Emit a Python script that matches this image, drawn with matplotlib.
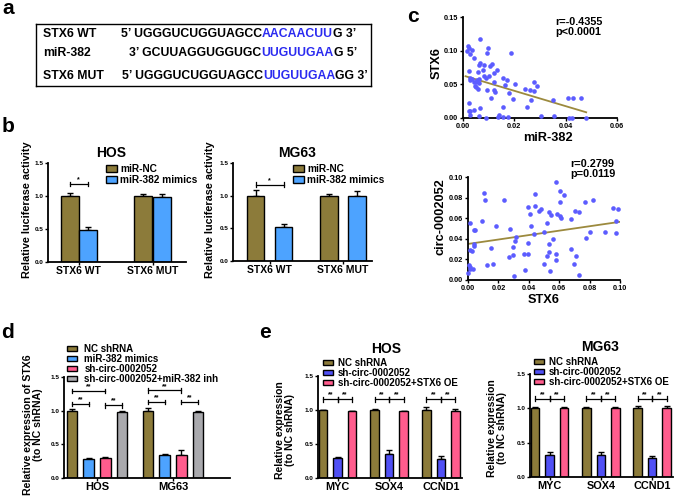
import numpy as np
import matplotlib
matplotlib.use("Agg")
import matplotlib.pyplot as plt
from matplotlib.patches import Patch
from matplotlib.ticker import FormatStrFormatter

W, H = 685, 499

plt.rcParams['font.family'] = ['Liberation Sans', 'DejaVu Sans']
plt.rcParams['font.weight'] = 'bold'
plt.rcParams['axes.labelweight'] = 'bold'

OLIVE = '#8c7b3a'
LBLUE = '#4da3ff'
PINK = '#ff5c8d'
GRAY = '#a9a9ad'
DBLUE = '#5050f5'
DOT = '#5c5cff'
LINE = '#9c8a3e'
SEQBLUE = '#2b2bf0'

# ---- panel a: sequences
seq_names = ['STX6 WT', 'miR-382', 'STX6 MUT']
seq_parts = [
    ["5\u2019 UGGGUCUGGUAGCC", "AACAACUU", "G 3\u2019"],
    ["3\u2019 GCUUAGGUGGUGC", "UUGUUGAA", "G 5\u2019"],
    ["5\u2019 UGGGUCUGGUAGCC", "UUGUUGAA", "GG 3\u2019"],
]

# ---- panel b: luciferase
luc_groups = ['STX6 WT', 'STX6 MUT']
luc_series = ['miR-NC', 'miR-382 mimics']
luc_hos = [[1.00, 1.00], [0.49, 0.98]]
luc_hos_err = [[0.04, 0.03], [0.04, 0.05]]
luc_mg63 = [[1.00, 1.00], [0.52, 1.00]]
luc_mg63_err = [[0.08, 0.03], [0.05, 0.07]]

# ---- panel c: correlations
mir382 = [0.0019, 0.0022, 0.0015, 0.0035, 0.0026, 0.0044, 0.0067, 0.0099, 0.0093, 0.0186,
          0.0022, 0.0067, 0.0063, 0.0076, 0.0057, 0.0080, 0.0106, 0.0114, 0.0119, 0.0134,
          0.0026, 0.0035, 0.0028, 0.0041, 0.0049, 0.0054, 0.0061, 0.0064, 0.0050, 0.0058,
          0.0045, 0.0080, 0.0090, 0.0103, 0.0119, 0.0154, 0.0170, 0.0164, 0.0201, 0.0093,
          0.0121, 0.0123, 0.0110, 0.0179, 0.0194, 0.0243, 0.0261, 0.0277, 0.0276, 0.0289,
          0.0263, 0.0248, 0.0351, 0.0410, 0.0430, 0.0458, 0.0022, 0.0022, 0.0028, 0.0044,
          0.0067, 0.0028, 0.0064, 0.0090, 0.0137, 0.0140, 0.0155, 0.0174, 0.0155, 0.0302,
          0.0355, 0.0413, 0.0425, 0.0480]
stx6_vs_mir = [0.107, 0.104, 0.0995, 0.101, 0.0955, 0.0896, 0.117, 0.104, 0.0965, 0.0965,
               0.070, 0.082, 0.078, 0.072, 0.069, 0.079, 0.077, 0.080, 0.067, 0.072,
               0.059, 0.058, 0.056, 0.054, 0.053, 0.056, 0.052, 0.058, 0.046, 0.0436,
               0.047, 0.062, 0.059, 0.062, 0.0535, 0.059, 0.056, 0.0485, 0.050, 0.041,
               0.042, 0.038, 0.030, 0.037, 0.028, 0.0436, 0.042, 0.0535, 0.040, 0.047,
               0.027, 0.016, 0.026, 0.030, 0.0297, 0.029, 0.023, 0.010, 0.011, 0.012,
               0.015, 0.004, 0.0035, 0.0, 0.0015, 0.004, 0.0015, 0.002, 0.017, 0.0025,
               0.0025, 0.0005, 0.0005, 0.0]
fit1_x = [0.001, 0.048]
fit1_y = [0.062, 0.0085]

stx6 = [0.000, 0.0004, 0.0011, 0.0015, 0.0033, 0.0011, 0.0037, 0.0044, 0.0015, 0.0026,
        0.0037, 0.0037, 0.0092, 0.0107, 0.0114, 0.0125, 0.0153, 0.0164, 0.0186, 0.0239,
        0.0267, 0.0278, 0.0293, 0.0295, 0.0304, 0.0309, 0.0315, 0.0370, 0.0376, 0.0392,
        0.0398, 0.0394, 0.0409, 0.0416, 0.0431, 0.0442, 0.0442, 0.0464, 0.0479, 0.0497,
        0.0501, 0.0519, 0.0523, 0.0530, 0.0534, 0.0536, 0.0540, 0.0547, 0.0562, 0.0578,
        0.0578, 0.0584, 0.0580, 0.0602, 0.0602, 0.0606, 0.0611, 0.0632, 0.0676, 0.0676,
        0.0698, 0.0705, 0.0709, 0.0731, 0.0733, 0.0772, 0.0777, 0.0801, 0.0821, 0.0902,
        0.0956, 0.0974, 0.0972, 0.0989]
circ = [0.0065, 0.0146, 0.013, 0.011, 0.0104, 0.0558, 0.049, 0.049, 0.029, 0.028,
        0.033, 0.035, 0.057, 0.0844, 0.078, 0.015, 0.0315, 0.016, 0.0526, 0.078,
        0.022, 0.0497, 0.024, 0.032, 0.004, 0.038, 0.042, 0.025, 0.0097, 0.071,
        0.036, 0.025, 0.064, 0.0526, 0.0448, 0.0838, 0.072, 0.0666, 0.069, 0.047,
        0.016, 0.055, 0.0234, 0.0276, 0.0656, 0.035, 0.009, 0.063, 0.0396, 0.0948,
        0.025, 0.064, 0.0195, 0.086, 0.0756, 0.0617, 0.060, 0.0828, 0.0594, 0.0299,
        0.0156, 0.0666, 0.023, 0.0049, 0.066, 0.0753, 0.041, 0.047, 0.0773, 0.047,
        0.0698, 0.0568, 0.046, 0.0692]
fit2_x = [0.0, 0.10]
fit2_y = [0.035, 0.0565]

# ---- panel d: STX6 expression
d_groups = ['HOS', 'MG63']
d_series = ['NC shRNA', 'miR-382 mimics', 'sh-circ-0002052', 'sh-circ-0002052+miR-382 inh']
d_vals = [[1.00, 1.00], [0.28, 0.34], [0.30, 0.34], [0.98, 0.98]]
d_err = [[0.02, 0.04], [0.02, 0.02], [0.01, 0.07], [0.01, 0.01]]

# ---- panel e: target genes
e_groups = ['MYC', 'SOX4', 'CCND1']
e_series = ['NC shRNA', 'sh-circ-0002052', 'sh-circ-0002052+STX6 OE']
e_hos = [[1.00, 1.00, 1.00], [0.30, 0.35, 0.28], [0.98, 0.98, 0.98]]
e_hos_err = [[0.0, 0.02, 0.04], [0.01, 0.06, 0.04], [0.01, 0.01, 0.04]]
e_mg63 = [[1.00, 1.00, 1.00], [0.32, 0.32, 0.28], [1.00, 1.00, 1.00]]
e_mg63_err = [[0.02, 0.02, 0.03], [0.04, 0.05, 0.03], [0.02, 0.02, 0.03]]


fig = plt.figure(figsize=(W / 100, H / 100), dpi=100)


def px_axes(l, t, r, b):
    return fig.add_axes([l / W, 1 - b / H, (r - l) / W, (b - t) / H])


def ftext(x, y, s, **kw):
    kw.setdefault('ha', 'center')
    kw.setdefault('va', 'center')
    return fig.text(x / W, 1 - y / H, s, **kw)


def style(ax, tick_fs=4.6):
    for s in ['top', 'right']:
        ax.spines[s].set_visible(False)
    for s in ['left', 'bottom']:
        ax.spines[s].set_linewidth(1.3)
    ax.tick_params(axis='y', length=2.5, width=1, labelsize=tick_fs, pad=1)
    ax.tick_params(axis='x', length=2, width=1, pad=1)


def bar_panel(ax, groups, vals, errs, colors, first, gstep, bstep, width, width_px, xfs):
    n = len(vals)
    gx = first + np.arange(len(groups)) * gstep
    xs = []
    for i in range(n):
        x = gx + (i - (n - 1) / 2) * bstep
        xs.append(x)
        ax.errorbar(x, vals[i], yerr=[np.zeros(len(groups)), errs[i]], fmt='none',
                    ecolor='k', elinewidth=1, capsize=2.2, capthick=1, zorder=1)
        ax.bar(x, vals[i], width, color=colors[i], edgecolor='k', linewidth=1, zorder=2)
    ax.set_xlim(0, width_px)
    ax.set_ylim(0, 1.5)
    ax.set_yticks([0, 0.5, 1.0, 1.5])
    ax.yaxis.set_major_formatter(FormatStrFormatter('%.1f'))
    ax.set_xticks(gx)
    ax.set_xticklabels(groups, fontsize=xfs)
    style(ax)
    return xs


def bracket(ax, x0, x1, y, label, fs=5, dy=0.035):
    ax.plot([x0, x1], [y, y], color='k', lw=0.9, clip_on=False)
    ax.plot([x0, x0], [y - dy, y + dy], color='k', lw=0.9, clip_on=False)
    ax.plot([x1, x1], [y - dy, y + dy], color='k', lw=0.9, clip_on=False)
    ax.text((x0 + x1) / 2, y + 0.01, label, ha='center', va='bottom', fontsize=fs)


def legend(ax, labels, colors, x, y, fs, hl, hh, tp, ls):
    handles = [Patch(facecolor=c, edgecolor='k', linewidth=1) for c in colors]
    ax.legend(handles, labels, loc='upper left', bbox_to_anchor=(x / W, 1 - y / H),
              bbox_transform=fig.transFigure, frameon=False, borderpad=0, borderaxespad=0,
              fontsize=fs, handlelength=hl, handleheight=hh, handletextpad=tp,
              labelspacing=ls)


# panel letters
for s, x, y in [('a', 8, 9), ('b', 8, 127), ('c', 413, 17), ('d', 8, 333), ('e', 265, 333)]:
    ftext(x, y, s, fontsize=15)

# ---------------- a
ax_a = px_axes(36, 24, 371, 86)
ax_a.set_xlim(0, 335)
ax_a.set_ylim(62, 0)
ax_a.set_xticks([])
ax_a.set_yticks([])
for s in ax_a.spines.values():
    s.set_linewidth(1)
row_y = [10, 29, 52]
seq_x = [85, 93, 86]
for name, parts, y, x in zip(seq_names, seq_parts, row_y, seq_x):
    ax_a.text(7, y, name, fontsize=8.8, va='center', ha='left')
    t = ax_a.text(x, y, parts[0], fontsize=8.8, va='center', ha='left')
    t = ax_a.annotate(parts[1], xy=(1, 0.5), xycoords=t, fontsize=8.8, va='center',
                      ha='left', color=SEQBLUE)
    ax_a.annotate(parts[2], xy=(1, 0.5), xycoords=t, fontsize=8.8, va='center', ha='left')

# ---------------- b
ax_b1 = px_axes(48, 163, 186, 262)
xs = bar_panel(ax_b1, luc_groups, luc_hos, luc_hos_err, [OLIVE, LBLUE],
               30.75, 73.75, 18.5, 18, 138, 7.5)
bracket(ax_b1, xs[0][0], xs[1][0], 1.18, '*')
legend(ax_b1, luc_series, [OLIVE, LBLUE], 106, 164, 7.3, 1.05, 0.6, 0.35, 0.1)
ftext(111, 153, 'HOS', fontsize=10)
ftext(27, 210, 'Relative luciferase activity', fontsize=7.8, rotation=90)

ax_b2 = px_axes(233, 163, 372, 261)
xs = bar_panel(ax_b2, luc_groups, luc_mg63, luc_mg63_err, [OLIVE, LBLUE],
               36.5, 73.25, 28, 17.5, 139, 7.5)
bracket(ax_b2, xs[0][0], xs[1][0], 1.17, '*')
legend(ax_b2, luc_series, [OLIVE, LBLUE], 293, 164, 7.3, 1.05, 0.6, 0.35, 0.1)
ftext(297, 153, 'MG63', fontsize=10)
ftext(210, 210, 'Relative luciferase activity', fontsize=7.8, rotation=90)

# ---------------- c
ax_c1 = px_axes(463, 17, 617, 118)
ax_c1.scatter(mir382, stx6_vs_mir, s=11, color=DOT, linewidths=0, clip_on=False, zorder=3)
ax_c1.plot(fit1_x, fit1_y, color=LINE, lw=1.3, zorder=2)
ax_c1.set_xlim(0, 0.06)
ax_c1.set_ylim(0, 0.15)
ax_c1.set_xticks([0, 0.02, 0.04, 0.06])
ax_c1.set_yticks([0, 0.05, 0.10, 0.15])
ax_c1.xaxis.set_major_formatter(FormatStrFormatter('%.2f'))
ax_c1.yaxis.set_major_formatter(FormatStrFormatter('%.2f'))
style(ax_c1, tick_fs=5.3)
ax_c1.tick_params(axis='x', length=2.5, labelsize=5.3)
ftext(555, 27, 'r=-0.4355\np<0.0001', fontsize=7.8, ha='left', linespacing=0.9)
ftext(437, 63, 'STX6', fontsize=9.2, rotation=90)
ftext(548, 138, 'miR-382', fontsize=9.2)

ax_c2 = px_axes(468, 177, 620, 280)
ax_c2.scatter(stx6, circ, s=11, color=DOT, linewidths=0, clip_on=False, zorder=3)
ax_c2.plot(fit2_x, fit2_y, color=LINE, lw=1.3, zorder=2)
ax_c2.set_xlim(0, 0.10)
ax_c2.set_ylim(0, 0.10)
ax_c2.set_xticks(np.arange(0, 0.101, 0.02))
ax_c2.set_yticks(np.arange(0, 0.101, 0.02))
ax_c2.xaxis.set_major_formatter(FormatStrFormatter('%.2f'))
ax_c2.yaxis.set_major_formatter(FormatStrFormatter('%.2f'))
style(ax_c2, tick_fs=5.3)
ax_c2.tick_params(axis='x', length=2.5, labelsize=5.3)
ftext(570, 169, 'r=0.2799\np=0.0119', fontsize=7.8, ha='left', linespacing=0.9)
ftext(440, 217, 'circ-0002052', fontsize=9.2, rotation=90)
ftext(544, 300, 'STX6', fontsize=9.2)

# ---------------- d
ax_d = px_axes(64, 377, 230, 478)
d_colors = [OLIVE, LBLUE, PINK, GRAY]
xs = bar_panel(ax_d, d_groups, d_vals, d_err, d_colors, 33, 76, 16.7, 10.5, 166, 8)
for g, (y1, y2, y3) in enumerate([(1.10, 1.08, 1.29), (1.13, 1.13, 1.30)]):
    bracket(ax_d, xs[0][g], xs[1][g], y1, '**', fs=5)
    bracket(ax_d, xs[2][g], xs[3][g], y2, '**', fs=5)
    bracket(ax_d, xs[0][g], xs[2][g], y3, '**', fs=5)
legend(ax_d, d_series, d_colors, 67, 344, 7.0, 1.05, 0.55, 0.75, 0.0)
ftext(33, 425, 'Relative expression of STX6\n(to NC shRNA)', fontsize=7.6,
      rotation=90, linespacing=0.95)

# ---------------- e
e_colors = [OLIVE, DBLUE, PINK]
ax_e1 = px_axes(318, 376, 462, 478)
xs = bar_panel(ax_e1, e_groups, e_hos, e_hos_err, e_colors, 19.5, 51.7, 14.5, 8.5, 144, 7.8)
for g in range(len(e_groups)):
    bracket(ax_e1, xs[0][g], xs[1][g], 1.16, '**', fs=5)
    bracket(ax_e1, xs[1][g], xs[2][g], 1.16, '**', fs=5)
legend(ax_e1, e_series, e_colors, 323, 358, 7.0, 1.05, 0.55, 0.45, 0.0)
ftext(386, 349, 'HOS', fontsize=10)
ftext(285, 430, 'Relative expression\n(to NC shRNA)', fontsize=7.5,
      rotation=90, linespacing=0.95)

ax_e2 = px_axes(530, 374, 673, 477)
xs = bar_panel(ax_e2, e_groups, e_mg63, e_mg63_err, e_colors, 19.5, 51.3, 14.5, 8.5, 143, 7.8)
for g in range(len(e_groups)):
    bracket(ax_e2, xs[0][g], xs[1][g], 1.14, '**', fs=5)
    bracket(ax_e2, xs[1][g], xs[2][g], 1.14, '**', fs=5)
legend(ax_e2, e_series, e_colors, 534, 357, 7.0, 1.05, 0.55, 0.45, 0.0)
ftext(600, 347, 'MG63', fontsize=10)
ftext(497, 428, 'Relative expression\n(to NC shRNA)', fontsize=7.5,
      rotation=90, linespacing=0.95)

fig.savefig('out.png', dpi=100)
